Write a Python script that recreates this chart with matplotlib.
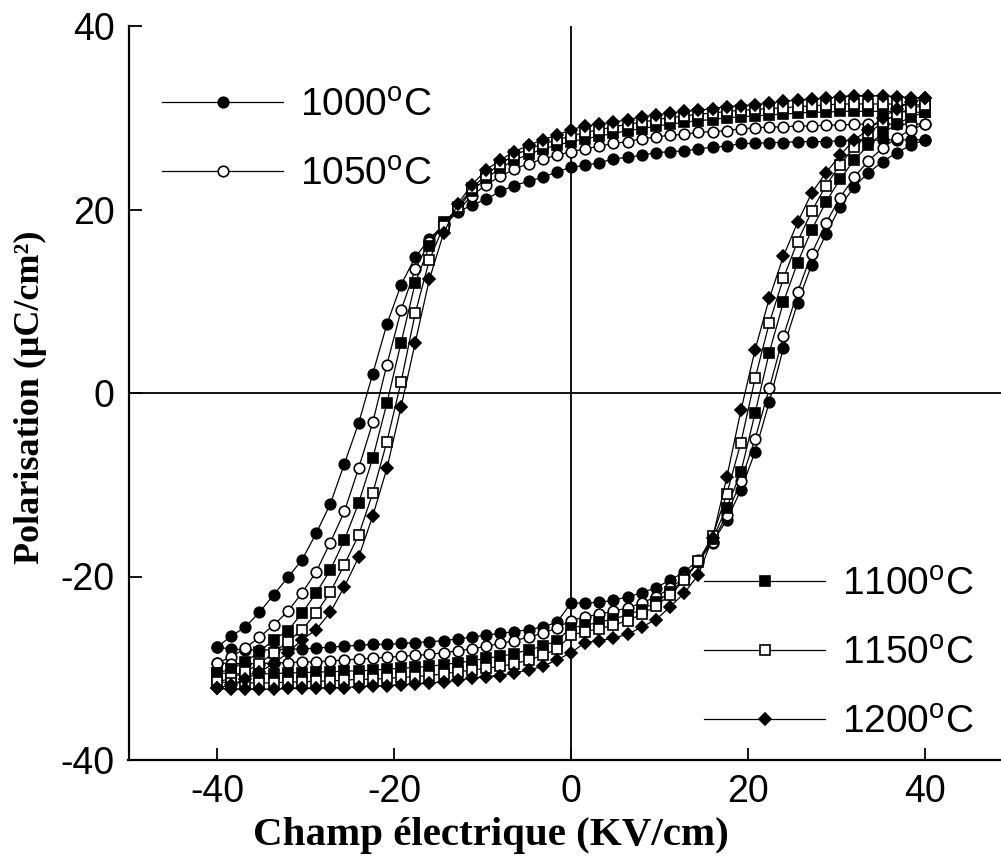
import matplotlib
matplotlib.use("Agg")
import matplotlib.pyplot as plt
from matplotlib.lines import Line2D

plt.rcParams['mathtext.fontset'] = 'custom'
plt.rcParams['mathtext.rm'] = 'Liberation Sans'
plt.rcParams['mathtext.it'] = 'Liberation Sans'
plt.rcParams['axes.unicode_minus'] = False

# Electric field grid (kV/cm), shared by all loops
E = [-40.0, -38.4, -36.8, -35.2, -33.6, -32.0, -30.4, -28.8, -27.2, -25.6,
     -24.0, -22.4, -20.8, -19.2, -17.6, -16.0, -14.4, -12.8, -11.2, -9.6,
     -8.0, -6.4, -4.8, -3.2, -1.6, 0.0, 1.6, 3.2, 4.8, 6.4,
     8.0, 9.6, 11.2, 12.8, 14.4, 16.0, 17.6, 19.2, 20.8, 22.4,
     24.0, 25.6, 27.2, 28.8, 30.4, 32.0, 33.6, 35.2, 36.8, 38.4, 40.0]

labels = ['1000', '1050', '1100', '1150', '1200']

# Descending branch (field swept from +40 down to -40), listed along E
P_down_1000 = [-27.7, -26.5, -25.5, -23.9, -22.0, -20.1, -18.2, -15.3, -12.1, -7.7,
               -3.3, 2.1, 7.5, 11.8, 14.8, 16.8, 18.3, 19.7, 20.5, 21.1,
               22.0, 22.6, 23.1, 23.5, 24.1, 24.6, 24.8, 25.1, 25.5, 25.7,
               25.9, 26.2, 26.3, 26.4, 26.6, 26.8, 26.9, 27.2, 27.2, 27.3,
               27.3, 27.4, 27.4, 27.4, 27.5, 27.5, 27.5, 27.6, 27.6, 27.6, 27.6]
P_down_1050 = [-29.4, -28.8, -27.8, -26.6, -25.3, -23.8, -21.8, -19.5, -16.3, -12.9,
               -8.2, -3.2, 3.1, 9.0, 13.5, 16.5, 18.5, 19.9, 21.5, 22.7,
               23.6, 24.4, 25.0, 25.5, 25.9, 26.3, 26.6, 26.9, 27.2, 27.4,
               27.7, 27.9, 28.1, 28.2, 28.4, 28.5, 28.6, 28.8, 28.9, 29.0,
               29.0, 29.1, 29.1, 29.2, 29.2, 29.3, 29.3, 29.3, 29.3, 29.3, 29.3]
P_down_1100 = [-30.5, -30.1, -29.3, -28.2, -26.9, -25.9, -24.0, -21.8, -19.3, -16.0,
               -12.0, -7.1, -1.1, 5.5, 12.0, 16.0, 18.6, 20.1, 22.0, 23.4,
               24.5, 25.4, 26.0, 26.6, 27.0, 27.4, 27.7, 28.0, 28.3, 28.6,
               28.8, 29.1, 29.3, 29.5, 29.7, 29.8, 30.0, 30.1, 30.2, 30.3,
               30.4, 30.5, 30.6, 30.6, 30.7, 30.7, 30.7, 30.7, 30.7, 30.6, 30.6]
P_down_1150 = [-31.5, -31.1, -30.4, -29.5, -28.3, -27.1, -25.8, -24.0, -21.7, -18.7,
               -15.5, -10.9, -5.3, 1.2, 8.7, 14.5, 18.2, 20.3, 22.3, 23.8,
               25.0, 25.9, 26.6, 27.1, 27.6, 28.0, 28.4, 28.7, 29.0, 29.3,
               29.5, 29.8, 30.0, 30.2, 30.4, 30.5, 30.7, 30.8, 30.9, 31.0,
               31.1, 31.2, 31.3, 31.4, 31.5, 31.5, 31.5, 31.5, 31.5, 31.4, 31.4]
P_down_1200 = [-32.2, -31.8, -31.2, -30.4, -29.5, -28.3, -26.9, -25.8, -23.9, -21.1,
               -17.9, -13.4, -8.2, -1.5, 5.5, 12.4, 17.4, 20.6, 22.7, 24.3,
               25.4, 26.3, 27.0, 27.6, 28.1, 28.7, 29.1, 29.3, 29.5, 29.8,
               30.1, 30.3, 30.5, 30.7, 30.8, 31.0, 31.2, 31.3, 31.4, 31.6,
               31.8, 31.9, 32.0, 32.1, 32.3, 32.4, 32.4, 32.4, 32.3, 32.2, 32.1]

# Ascending branch (field swept from -40 up to +40)
P_up_1000 = [-27.7, -27.9, -28.0, -28.0, -28.0, -27.9, -27.9, -27.8, -27.7, -27.6,
             -27.5, -27.4, -27.4, -27.3, -27.2, -27.1, -27.0, -26.8, -26.6, -26.4,
             -26.2, -26.0, -25.8, -25.5, -25.0, -22.9, -22.9, -22.8, -22.6, -22.2,
             -21.8, -21.2, -20.4, -19.5, -18.2, -16.3, -13.8, -10.6, -6.4, -1.0,
             4.9, 9.8, 14.0, 17.3, 20.3, 22.5, 24.0, 25.2, 26.2, 27.0, 27.6]
P_up_1050 = [-29.4, -29.5, -29.5, -29.5, -29.4, -29.4, -29.3, -29.3, -29.2, -29.1,
             -29.0, -28.9, -28.8, -28.7, -28.6, -28.5, -28.3, -28.1, -27.9, -27.6,
             -27.3, -27.0, -26.6, -26.2, -25.6, -24.8, -24.4, -24.1, -23.8, -23.4,
             -22.9, -22.2, -21.3, -20.1, -18.4, -16.2, -13.3, -9.6, -5.0, 0.5,
             6.2, 11.0, 15.2, 18.5, 21.3, 23.5, 25.3, 26.7, 27.8, 28.7, 29.3]
P_up_1100 = [-30.5, -30.6, -30.6, -30.6, -30.6, -30.5, -30.5, -30.4, -30.4, -30.3,
             -30.3, -30.2, -30.1, -30.0, -29.9, -29.8, -29.6, -29.4, -29.2, -28.9,
             -28.7, -28.4, -28.0, -27.6, -27.0, -25.6, -25.3, -25.0, -24.6, -24.2,
             -23.6, -22.8, -21.7, -20.3, -18.4, -15.9, -12.5, -8.6, -2.2, 4.4,
             9.9, 14.2, 17.8, 20.8, 23.3, 25.4, 27.0, 28.3, 29.3, 30.1, 30.6]
P_up_1150 = [-31.5, -31.6, -31.6, -31.6, -31.6, -31.5, -31.5, -31.4, -31.4, -31.3,
             -31.2, -31.2, -31.1, -31.0, -30.9, -30.8, -30.6, -30.4, -30.2, -30.0,
             -29.8, -29.5, -29.1, -28.6, -27.9, -26.4, -26.0, -25.7, -25.3, -24.8,
             -24.1, -23.2, -22.0, -20.4, -18.3, -15.6, -11.0, -5.4, 1.6, 7.6,
             12.5, 16.5, 19.8, 22.6, 24.9, 26.8, 28.3, 29.5, 30.4, 31.0, 31.4]
P_up_1200 = [-32.2, -32.3, -32.3, -32.3, -32.3, -32.2, -32.2, -32.2, -32.1, -32.1,
             -32.0, -31.9, -31.9, -31.8, -31.7, -31.6, -31.5, -31.3, -31.1, -30.9,
             -30.8, -30.5, -30.2, -29.8, -29.1, -28.3, -27.2, -27.0, -26.7, -26.3,
             -25.5, -24.7, -23.3, -21.8, -19.8, -15.8, -9.2, -1.9, 4.7, 10.3,
             14.9, 18.6, 21.8, 24.0, 25.9, 27.6, 28.7, 30.0, 31.0, 31.7, 32.1]

down = [P_down_1000, P_down_1050, P_down_1100, P_down_1150, P_down_1200]
up = [P_up_1000, P_up_1050, P_up_1100, P_up_1150, P_up_1200]

styles = [
    dict(marker='o', ms=7.6, mfc='black', mec='black'),
    dict(marker='o', ms=7.6, mfc='white', mec='black'),
    dict(marker='s', ms=7.0, mfc='black', mec='black'),
    dict(marker='s', ms=7.0, mfc='white', mec='black'),
    dict(marker='D', ms=6.4, mfc='black', mec='black'),
]

W, H = 1001, 856
fig = plt.figure(figsize=(W / 100, H / 100), dpi=100)
ax = fig.add_axes([128.5 / W, 1 - 760 / H, 885 / W, 734 / H])

handles = []
for lab, pd_, pu, st in zip(labels, down, up, styles):
    xs = E[::-1] + E
    ys = pd_[::-1] + pu
    ax.plot(xs, ys, color='black', lw=0.9, mew=1.2, zorder=3, **st)
    handles.append(Line2D([], [], color='black', lw=0.9, mew=1.2, **st,
                          label=lab + r'$^{\rm o}$C'))

ax.axhline(0, color='black', lw=1.3, zorder=2)
ax.axvline(0, color='black', lw=1.3, zorder=2)

ax.set_xlim(-50, 50)
ax.set_ylim(-40, 40)
ax.set_xticks([-40, -20, 0, 20, 40])
ax.set_yticks([-40, -20, 0, 20, 40])
ax.tick_params(direction='in', length=9, width=1.3, labelsize=27, pad=10)
for lab in ax.get_xticklabels() + ax.get_yticklabels():
    lab.set_family('Liberation Sans')
for side in ['left', 'bottom']:
    ax.spines[side].set_linewidth(1.6)
ax.spines['top'].set_visible(False)
ax.spines['right'].set_visible(False)

fig.text(30 / W, 1 - 397 / H, 'Polarisation (μC/cm²)', rotation=90,
         ha='center', va='center', family='Liberation Serif',
         fontweight='bold', fontsize=26)
fig.text(491 / W, 1 - 835 / H, 'Champ électrique (KV/cm)',
         ha='center', va='center', family='Liberation Serif',
         fontweight='bold', fontsize=29.5)

leg_kw = dict(frameon=False, borderpad=0, handlelength=3.1, handletextpad=0.45,
              labelspacing=0.85, numpoints=1, loc='upper left',
              prop={'family': 'Liberation Sans', 'size': 28},
              bbox_transform=fig.transFigure)
leg1 = ax.legend(handles=handles[:2], bbox_to_anchor=(143 / W, 1 - 68 / H), **leg_kw)
ax.add_artist(leg1)
ax.legend(handles=handles[2:], bbox_to_anchor=(685 / W, 1 - 547 / H), **leg_kw)

fig.savefig('out.png', dpi=100)
